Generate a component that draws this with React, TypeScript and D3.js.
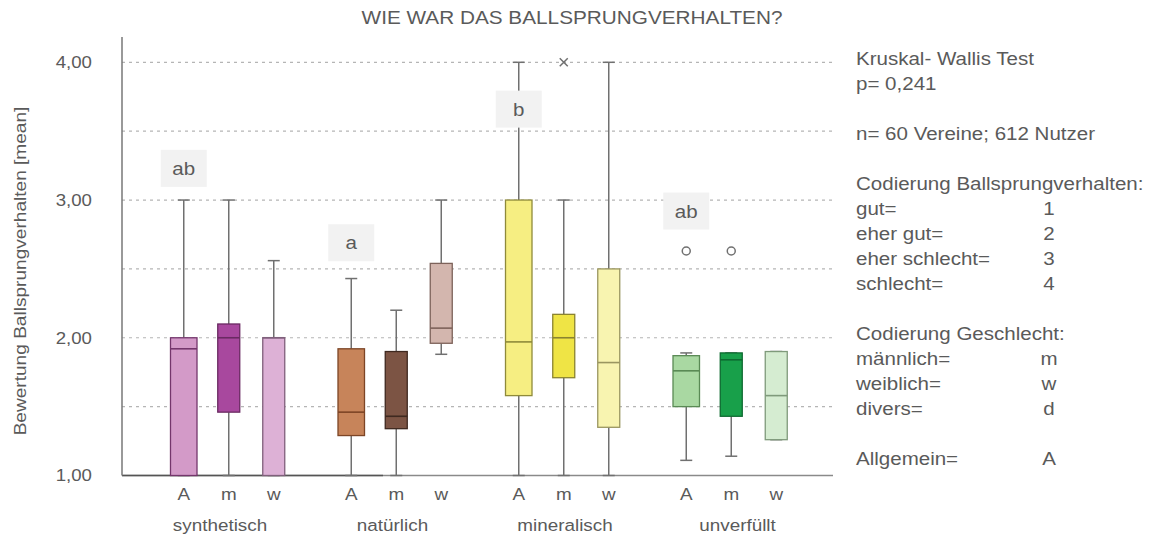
import React from "react";
import * as d3 from "d3";

const title = "WIE WAR DAS BALLSPRUNGVERHALTEN?";
const yAxisTitle = "Bewertung Ballsprungverhalten [mean]";
const groups = ["synthetisch", "natürlich", "mineralisch", "unverfüllt"];
const subgroups = ["A", "m", "w"];
const yTicks = [1, 2, 3, 4];
const yTickLabels = ["1,00", "2,00", "3,00", "4,00"];
const gridValues = [1.5, 2, 2.5, 3, 3.5, 4];

// per group: [A, m, w]
const minV = [[1, 1, 1], [1, 1, 1.88], [1, 1, 1], [1.11, 1.14, 1.26]];
const q1V = [[1, 1.46, 1], [1.29, 1.34, 1.96], [1.58, 1.71, 1.35], [1.5, 1.43, 1.26]];
const medV = [[1.92, 2.0, 2.0], [1.46, 1.43, 2.07], [1.97, 2.0, 1.82], [1.76, 1.84, 1.58]];
const q3V = [[2.0, 2.1, 2.0], [1.92, 1.9, 2.54], [3.0, 2.17, 2.5], [1.87, 1.89, 1.9]];
const maxV = [[3.0, 3.0, 2.56], [2.43, 2.2, 3.0], [4.0, 3.0, 4.0], [1.89, 1.89, 1.9]];

const fills = [
  ["#d39ac8", "#a8489e", "#ddb1d6"],
  ["#c7845a", "#7c5444", "#d3b6ae"],
  ["#f6ee82", "#efe445", "#f8f4b0"],
  ["#a9d8a2", "#18a04a", "#d5ecd1"],
];
const strokes = [
  ["#74366c", "#6a2a62", "#80607c"],
  ["#7d4526", "#3f2920", "#7d625a"],
  ["#8f8a3a", "#8a8330", "#9a9660"],
  ["#5a8a55", "#0d6a30", "#7f9a7b"],
];

const outlierGroup = [2, 3, 3];
const outlierSub = [1, 0, 1];
const outlierValue = [4.0, 2.63, 2.63];
const outlierShape = ["x", "o", "o"];

const letters = ["ab", "a", "b", "ab"];
const letterValue = [3.23, 2.69, 3.66, 2.92];

const legendLines = [
  ["Kruskal- Wallis Test", ""],
  ["p= 0,241", ""],
  ["", ""],
  ["n= 60 Vereine; 612 Nutzer", ""],
  ["", ""],
  ["Codierung Ballsprungverhalten:", ""],
  ["gut=", "1"],
  ["eher gut=", "2"],
  ["eher schlecht=", "3"],
  ["schlecht=", "4"],
  ["", ""],
  ["Codierung Geschlecht:", ""],
  ["männlich=", "m"],
  ["weiblich=", "w"],
  ["divers=", "d"],
  ["", ""],
  ["Allgemein=", "A"],
];

const W = 1155;
const H = 535;
const font = "'Liberation Sans', Arial, sans-serif";
const textColor = "#5a5a5a";
const SX = 1.11;

function T(props: {
  x: number;
  y: number;
  size: number;
  anchor?: "start" | "middle" | "end";
  rotate?: number;
  dy?: string;
  children: React.ReactNode;
}) {
  const { x, y, size, anchor = "start", rotate = 0, dy, children } = props;
  return (
    <text
      transform={`translate(${x},${y}) rotate(${rotate}) scale(${SX},1)`}
      textAnchor={anchor}
      fontSize={size}
      dy={dy}
      fill={textColor}
    >
      {children}
    </text>
  );
}

export default function App() {
  const y = d3.scaleLinear().domain([1, 4]).range([475.5, 62.3]);
  const xg = d3.scaleBand().domain(groups).range([145, 815]);
  const xs = d3.scalePoint().domain(subgroups).range([-45, 45]);
  const xLabel = d3.scalePoint().domain(groups).range([220, 737.5]);
  const cx = (gi: number, si: number) =>
    (xg(groups[gi]) as number) + xg.bandwidth() / 2 + (xs(subgroups[si]) as number);
  const axisX = 122;
  const rightX = 833;

  return (
    <svg
      width={W}
      height={H}
      style={{ position: "absolute", left: 0, top: 0, background: "#fff" }}
      fontFamily={font}
    >
      <rect x={0} y={0} width={W} height={H} fill="#fff" />
      <T x={572} y={23.5} size={18.7} anchor="middle">
        {title}
      </T>

      {/* grid */}
      {gridValues.map((v) => (
        <line
          key={v}
          x1={axisX}
          x2={rightX}
          y1={y(v)}
          y2={y(v)}
          stroke="#b5b5b5"
          strokeWidth={1.2}
          strokeDasharray="3 4"
        />
      ))}

      {/* y tick labels */}
      {yTicks.map((v, i) => (
        <T key={v} x={92} y={y(v)} dy="0.35em" anchor="end" size={16.8}>
          {yTickLabels[i]}
        </T>
      ))}
      <T x={26} y={271} rotate={-90} anchor="middle" size={17.2}>
        {yAxisTitle}
      </T>

      {/* axes */}
      <line x1={axisX} x2={rightX} y1={y(1)} y2={y(1)} stroke="#8a8a8a" strokeWidth={1.5} />
      <line x1={axisX} x2={383} y1={y(1)} y2={y(1)} stroke="#555" strokeWidth={1.5} />
      <line x1={axisX} x2={axisX} y1={37} y2={y(1)} stroke="#777" strokeWidth={1.5} />

      {/* boxes */}
      {groups.map((g, gi) =>
        subgroups.map((s, si) => {
          const c = cx(gi, si);
          const bw = si === 0 ? 26.5 : 22;
          const capW = 12;
          return (
            <g key={g + s}>
              <line x1={c} x2={c} y1={y(maxV[gi][si])} y2={y(q3V[gi][si])} stroke="#707070" strokeWidth={1.5} />
              <line x1={c} x2={c} y1={y(q1V[gi][si])} y2={y(minV[gi][si])} stroke="#707070" strokeWidth={1.5} />
              <line x1={c - capW / 2} x2={c + capW / 2} y1={y(maxV[gi][si])} y2={y(maxV[gi][si])} stroke="#707070" strokeWidth={1.5} />
              <line x1={c - capW / 2} x2={c + capW / 2} y1={y(minV[gi][si])} y2={y(minV[gi][si])} stroke="#707070" strokeWidth={1.5} />
              <rect
                x={c - bw / 2}
                y={y(q3V[gi][si])}
                width={bw}
                height={y(q1V[gi][si]) - y(q3V[gi][si])}
                fill={fills[gi][si]}
                stroke={strokes[gi][si]}
                strokeWidth={1.3}
              />
              <line
                x1={c - bw / 2}
                x2={c + bw / 2}
                y1={y(medV[gi][si])}
                y2={y(medV[gi][si])}
                stroke={strokes[gi][si]}
                strokeWidth={1.6}
              />
            </g>
          );
        })
      )}

      {/* outliers */}
      {outlierValue.map((v, i) => {
        const c = cx(outlierGroup[i], outlierSub[i]);
        const yy = y(v);
        return outlierShape[i] === "o" ? (
          <circle key={i} cx={c} cy={yy} r={4} fill="#fff" stroke="#707070" strokeWidth={1.5} />
        ) : (
          <path
            key={i}
            d={`M${c - 4},${yy - 4}L${c + 4},${yy + 4}M${c - 4},${yy + 4}L${c + 4},${yy - 4}`}
            stroke="#707070"
            strokeWidth={1.5}
          />
        );
      })}

      {/* significance letters */}
      {letters.map((l, gi) => {
        const c = cx(gi, 0);
        const yy = y(letterValue[gi]);
        return (
          <g key={gi}>
            <rect x={c - 23} y={yy - 18.5} width={46} height={37} fill="#f2f2f2" />
            <T x={c} y={yy} dy="0.35em" anchor="middle" size={18.5}>
              {l}
            </T>
          </g>
        );
      })}

      {/* x labels */}
      {groups.map((g, gi) => (
        <g key={g}>
          {subgroups.map((s, si) => (
            <T key={s} x={cx(gi, si)} y={500} anchor="middle" size={17}>
              {s}
            </T>
          ))}
          <T x={xLabel(g) as number} y={531} anchor="middle" size={17}>
            {g}
          </T>
        </g>
      ))}

      {/* legend */}
      {legendLines.map((l, i) => (
        <g key={i}>
          <T x={856} y={58.3 + i * 25} dy="0.35em" size={18.5}>
            {l[0]}
          </T>
          <T x={1049} y={58.3 + i * 25} dy="0.35em" anchor="middle" size={18.5}>
            {l[1]}
          </T>
        </g>
      ))}
    </svg>
  );
}
